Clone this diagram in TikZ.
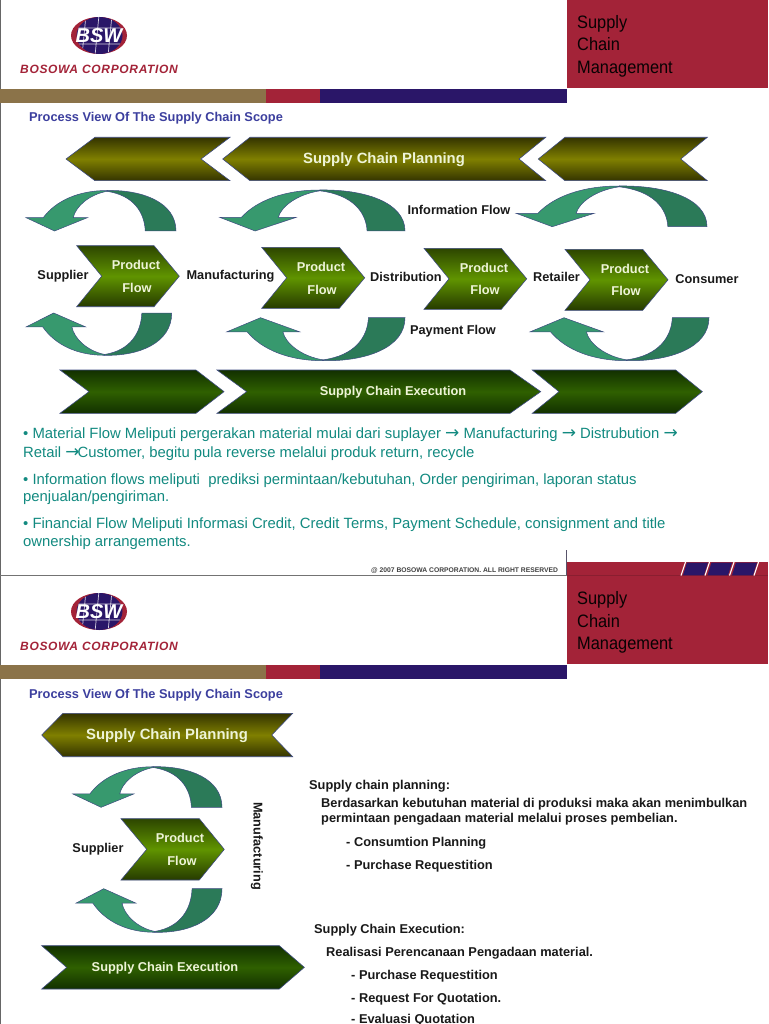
\documentclass[tikz,border=0pt]{standalone}
\usepackage{fontspec}
\setmainfont{Liberation Sans}
\newfontfamily\symfont{DejaVu Sans}
\newfontfamily\logofont[LetterSpace=5.5]{Liberation Sans}
\definecolor{redbar}{HTML}{A32338}
\definecolor{brownbar}{HTML}{8B7349}
\definecolor{navybar}{HTML}{2A1668}
\definecolor{titleblue}{HTML}{3C3F9E}
\definecolor{bodyteal}{HTML}{128A80}
\definecolor{edgeblue}{HTML}{3D4A80}
\definecolor{arrowlight}{HTML}{37996E}
\definecolor{arrowdark}{HTML}{2B7A58}
\definecolor{palelabel}{HTML}{EEF4D8}
\tikzset{
  x=1pt,y=-1pt,
  planningfill/.style={draw=edgeblue,line width=.6pt,top color=black!10!olive!45!black,bottom color=black!10!olive!45!black,middle color=olive},
  executionfill/.style={draw=edgeblue,line width=.6pt,top color={rgb,255:red,18;green,48;blue,0},bottom color={rgb,255:red,18;green,48;blue,0},middle color={rgb,255:red,47;green,96;blue,0}},
  productfill/.style={draw=edgeblue,line width=.6pt,top color={rgb,255:red,45;green,70;blue,0},bottom color={rgb,255:red,38;green,58;blue,0},middle color={rgb,255:red,96;green,148;blue,0}},
  arrowedge/.style={draw=edgeblue,line width=.5pt},
  lab/.style={font=\bfseries\fontsize{12.75}{14}\selectfont,text=black!90,inner sep=0pt},
  pflab/.style={font=\bfseries\fontsize{12.8}{14}\selectfont,text=palelabel,inner sep=0pt},
  biglab/.style={font=\bfseries\fontsize{14.85}{16}\selectfont,text=palelabel,inner sep=0pt},
  detail/.style={font=\bfseries\fontsize{12.8}{14}\selectfont,text=black!90,inner sep=0pt,anchor=base west},
  bodytext/.style={font=\fontsize{14.85}{16}\selectfont,text=bodyteal,inner sep=0pt,anchor=base west},
  headtext/.style={font=\fontsize{18}{20}\selectfont,text=black!95!redbar,inner sep=0pt,anchor=base west,xscale=.91,transform shape},
}
% left-pointing: tip, shoulder, right, notch, top, bottom
\newcommand\chevleft[7]{\path[#7] (#1,{(#5+#6)/2}) -- (#2,#5) -- (#3,#5) -- (#4,{(#5+#6)/2}) -- (#3,#6) -- (#2,#6) -- cycle;}
% right-pointing: left, notch, shoulder, tip, top, bottom
\newcommand\chevright[7]{\path[#7] (#1,#5) -- (#3,#5) -- (#4,{(#5+#6)/2}) -- (#3,#6) -- (#1,#6) -- (#2,{(#5+#6)/2}) -- cycle;}
\newcommand\bendshape{%
  \path[arrowedge,fill=arrowdark] (.54,0) .. controls (.78,-.02) and (1,.3) .. (1,1) -- (.795,1) .. controls (.79,.55) and (.72,.12) .. (.54,.02) -- cycle;
  \path[arrowedge,fill=arrowlight] (0,.67) -- (.115,.67) .. controls (.2,.25) and (.35,0) .. (.54,0) -- (.54,.02) .. controls (.42,.1) and (.33,.4) .. (.315,.67) -- (.41,.67) -- (.19,1) -- cycle;}
% x left, x right, y top, y bottom
\newcommand\toparrow[4]{\begin{scope}[shift={(#1,#3)},xscale={#2-#1},yscale={#4-#3}]\bendshape\end{scope}}
\newcommand\botarrow[4]{\begin{scope}[shift={(#1,#4)},xscale={#2-#1},yscale={#3-#4}]\bendshape\end{scope}}
% header block: y offset, red top, name prefix
\newcommand\header[3]{%
  \fill[brownbar] (0,{89+#1}) rectangle (266,{103+#1});
  \fill[redbar] (266,{89+#1}) rectangle (320,{103+#1});
  \fill[navybar] (320,{89+#1}) rectangle (567,{103+#1});
  \fill[redbar] (567,#2) rectangle (768,{88+#1});
  \fill[redbar] (99,{35.5+#1}) ellipse [x radius=28,y radius=18.5];
  \begin{scope}
    \clip (99.5,{35.5+#1}) ellipse [x radius=23,y radius=18.5];
    \fill[navybar] (70,{15+#1}) rectangle (130,{56+#1});
    \draw[white!80!navybar,line width=.7pt] (86,{15+#1}) -- (82,{56+#1}) (99,{15+#1}) -- (95,{56+#1}) (112,{15+#1}) -- (108,{56+#1}) (70,{28+#1}) -- (130,{28+#1}) (70,{44+#1}) -- (130,{44+#1});
  \end{scope}
  \node[inner sep=0pt,text=white,font=\bfseries\itshape\fontsize{20}{20}\selectfont] (#3bsw) at (99,{36+#1}) {BSW};
  \node[inner sep=0pt,anchor=base west,text=redbar,font=\logofont\itshape\bfseries\fontsize{12}{12}\selectfont] (#3corp) at (20,{74+#1}) {BOSOWA CORPORATION};
  \node[headtext] (#3h1) at (577,{28.5+#1}) {Supply};
  \node[headtext] (#3h2) at (577,{51+#1}) {Chain};
  \node[headtext] (#3h3) at (577,{73.5+#1}) {Management};
  \node[inner sep=0pt,anchor=base west,text=titleblue,font=\bfseries\fontsize{12.8}{14}\selectfont] (#3title) at (29,{122+#1}) {Process View Of The Supply Chain Scope};
}
\newcommand\arr{{\symfont\fontsize{17}{16}\selectfont →}}
\begin{document}
\begin{tikzpicture}
\useasboundingbox (0,0) rectangle (768,1024);
\fill[white] (0,0) rectangle (768,1024);
\begin{scope}
\clip (0,0) rectangle (768,1024);
\draw[black!60,line width=1.2pt] (.6,0) -- (.6,1024);

\header{0}{0}{a}
\header{576}{562}{b}

% first slide
\chevleft{66}{95}{230}{201}{137.3}{180.7}{planningfill}
\chevleft{222.7}{250}{545.7}{519}{137.3}{180.7}{planningfill}
\chevleft{538.3}{565}{707.3}{680.7}{137.3}{180.7}{planningfill}
\node[biglab] (plan1) at (384,159.5) {Supply Chain Planning};

\toparrow{26}{176}{190.5}{231}
\toparrow{220}{405}{190}{231}
\toparrow{516}{707}{186}{226.7}

\chevright{76.7}{101.7}{154}{179.3}{245.7}{306.7}{productfill}
\chevright{261.7}{286.7}{339.3}{364.7}{247.3}{308.3}{productfill}
\chevright{424}{449}{501.3}{526.7}{248.3}{309.3}{productfill}
\chevright{565}{590}{642.7}{668}{249.3}{310.3}{productfill}
\node[pflab] (p1a) at (136,265) {Product}; \node[pflab] (p1b) at (137,288) {Flow};
\node[pflab] (p2a) at (321,267) {Product}; \node[pflab] (p2b) at (322,290) {Flow};
\node[pflab] (p3a) at (484,268) {Product}; \node[pflab] (p3b) at (485,290) {Flow};
\node[pflab] (p4a) at (625,269) {Product}; \node[pflab] (p4b) at (626,291) {Flow};

\node[lab] (sup1) at (63,276.5) {Supplier};
\node[lab] (man1) at (230.5,276.5) {Manufacturing};
\node[lab] (dis1) at (406,276.5) {Distribution};
\node[lab] (ret1) at (556.5,277) {Retailer};
\node[lab] (con1) at (707,279.5) {Consumer};
\node[lab] (info1) at (459,209.5) {Information Flow};
\node[lab] (pay1) at (453,331.5) {Payment Flow};

\botarrow{26}{171.7}{313}{355.3}
\botarrow{226.7}{405}{317.7}{360.7}
\botarrow{530}{709}{317.7}{360.7}

\chevright{60}{89}{196}{224}{370}{413.3}{executionfill}
\chevright{217}{246.7}{510}{540.7}{370}{413.3}{executionfill}
\chevright{532.3}{559}{675.7}{702.3}{370}{413.3}{executionfill}
\node[pflab] (exec1) at (393,392.5) {Supply Chain Execution};

\node[bodytext] (t1) at (23,438) {• Material Flow Meliputi pergerakan material mulai dari suplayer \arr{} Manufacturing \arr{} Distrubution \arr};
\node[bodytext] (t2) at (23,457) {Retail \arr\kern-2pt Customer, begitu pula reverse melalui produk return, recycle};
\node[bodytext] (t3) at (23,484) {• Information flows meliputi\ \ prediksi permintaan/kebutuhan, Order pengiriman, laporan status};
\node[bodytext] (t4) at (23,501) {penjualan/pengiriman.};
\node[bodytext] (t5) at (23,528) {• Financial Flow Meliputi Informasi Credit, Credit Terms, Payment Schedule, consignment and title};
\node[bodytext] (t6) at (23,546) {ownership arrangements.};

% footer
\node[inner sep=0pt,anchor=base west,text=black!75,font=\bfseries\fontsize{6.75}{8}\selectfont] (foot) at (371,572) {@ 2007 BOSOWA CORPORATION. ALL RIGHT RESERVED};
\draw[black!55,line width=.7pt] (0,575) -- (566.7,575);
\draw[navybar!40!black!70,line width=.8pt] (566.7,550) -- (566.7,575);
\draw[black!15!redbar,line width=.4pt] (567,575) -- (768,575);
\foreach \xa/\xb in {683/707,707.5/731,732/756}{
  \fill[navybar] (\xa+4,562.5) -- (\xb+1,562.5) -- (\xb-3,575.3) -- (\xa,575.3) -- cycle;
}
\foreach \xa in {681,705,729.5,754}{
  \draw[white,line width=1.1pt] (\xa+4.5,562) -- (\xa,575.5);
}

% second slide
\chevleft{41.7}{63}{292.7}{271.7}{713.3}{756.7}{planningfill}
\node[biglab] (plan2) at (167,735.5) {Supply Chain Planning};
\toparrow{72.7}{222}{766.7}{807.3}
\chevright{121}{146.7}{199.3}{224.3}{818.7}{880}{productfill}
\node[pflab] (p5a) at (180,838) {Product}; \node[pflab] (p5b) at (182,861) {Flow};
\node[lab] (sup2) at (98,849.5) {Supplier};
\node[lab,rotate=-90] (man2) at (257,846) {Manufacturing};
\botarrow{76}{222}{888.7}{932.3}
\chevright{41.7}{66.7}{279.3}{304.3}{945.7}{989}{executionfill}
\node[pflab] (exec2) at (165,968.5) {Supply Chain Execution};

\node[detail] (d1) at (309,789) {Supply chain planning:};
\node[detail] (d2) at (321,807) {Berdasarkan kebutuhan material di produksi maka akan menimbulkan};
\node[detail] (d3) at (321,822) {permintaan pengadaan material melalui proses pembelian.};
\node[detail] (d4) at (346,846) {- Consumtion Planning};
\node[detail] (d5) at (346,869) {- Purchase Requestition};
\node[detail] (d6) at (314,933) {Supply Chain Execution:};
\node[detail] (d7) at (326,956) {Realisasi Perencanaan Pengadaan material.};
\node[detail] (d8) at (351,979) {- Purchase Requestition};
\node[detail] (d9) at (351,1002) {- Request For Quotation.};
\node[detail] (d10) at (351,1023) {- Evaluasi Quotation};
\end{scope}
\end{tikzpicture}
\end{document}
